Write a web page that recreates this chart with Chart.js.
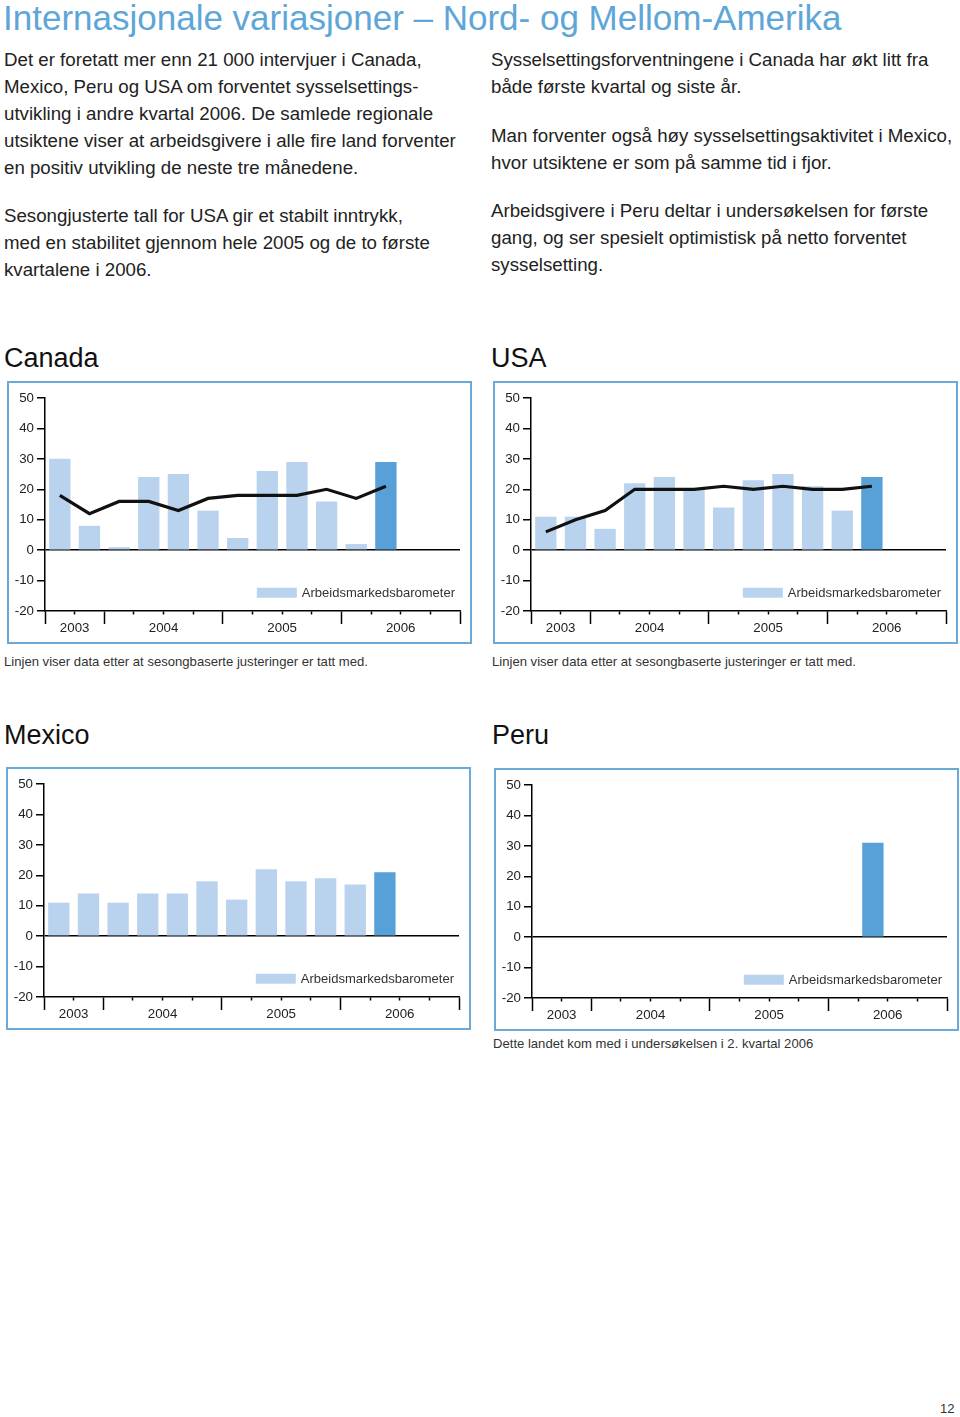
<!DOCTYPE html>
<html lang="no">
<head>
<meta charset="utf-8">
<title>Internasjonale variasjoner – Nord- og Mellom-Amerika</title>
<script src="https://cdn.jsdelivr.net/npm/chart.js@4.4.1/dist/chart.umd.min.js"></script>
<style>
  body { margin: 0; width: 960px; height: 1417px; position: relative; background: #fff;
         font-family: "Liberation Sans", Arial, sans-serif; color: #1e1e1e; overflow: hidden; }
  .abs { position: absolute; white-space: nowrap; margin: 0; font-weight: normal; }
  h1.abs { left: 3px; top: 0; font-size: 35px; line-height: 35px; color: #5ea6d8; }
  .txt { font-size: 18.7px; line-height: 27px; color: #222; }
  .head { font-size: 27px; line-height: 30px; color: #111; }
  .cap { font-size: 13.1px; line-height: 16px; color: #333; }
  .box { position: absolute; border: 2px solid #6aaad9; width: 461px; height: 259px; }
  .box canvas { display: block; }
</style>
</head>
<body>
<h1 class="abs">Internasjonale variasjoner – Nord- og Mellom-Amerika</h1>

<div class="abs txt" style="left:4px; top:46px;">Det er foretatt mer enn 21 000 intervjuer i Canada,<br>Mexico, Peru og USA om forventet sysselsettings-<br>utvikling i andre kvartal 2006. De samlede regionale<br>utsiktene viser at arbeidsgivere i alle fire land forventer<br>en positiv utvikling de neste tre månedene.</div>
<div class="abs txt" style="left:4px; top:202px;">Sesongjusterte tall for USA gir et stabilt inntrykk,<br>med en stabilitet gjennom hele 2005 og de to første<br>kvartalene i 2006.</div>

<div class="abs txt" style="left:491px; top:46px;">Sysselsettingsforventningene i Canada har økt litt fra<br>både første kvartal og siste år.</div>
<div class="abs txt" style="left:491px; top:122px;">Man forventer også høy sysselsettingsaktivitet i Mexico,<br>hvor utsiktene er som på samme tid i fjor.</div>
<div class="abs txt" style="left:491px; top:197px;">Arbeidsgivere i Peru deltar i undersøkelsen for første<br>gang, og ser spesielt optimistisk på netto forventet<br>sysselsetting.</div>

<div class="abs head" style="left:4px; top:343px;">Canada</div>
<div class="abs head" style="left:491px; top:343px;">USA</div>
<div class="box" style="left:7px; top:381px;"><canvas id="canada" width="461" height="259"></canvas></div>
<div class="box" style="left:493px; top:381px;"><canvas id="usa" width="461" height="259"></canvas></div>
<div class="abs cap" style="left:4px; top:654px;">Linjen viser data etter at sesongbaserte justeringer er tatt med.</div>
<div class="abs cap" style="left:492px; top:654px;">Linjen viser data etter at sesongbaserte justeringer er tatt med.</div>

<div class="abs head" style="left:4px; top:720px;">Mexico</div>
<div class="abs head" style="left:492px; top:720px;">Peru</div>
<div class="box" style="left:6px; top:767px;"><canvas id="mexico" width="461" height="259"></canvas></div>
<div class="box" style="left:494px; top:768px;"><canvas id="peru" width="461" height="259"></canvas></div>
<div class="abs cap" style="left:493px; top:1036px;">Dette landet kom med i undersøkelsen i 2. kvartal 2006</div>

<div class="abs" style="left:940px; top:1401px; font-size:13px; line-height:15px; color:#333;">12</div>

<script>
// quarters shown on the x axis (3rd quarter 2003 to 4th quarter 2006)
const quarters = [
  '3. kv. 2003', '4. kv. 2003',
  '1. kv. 2004', '2. kv. 2004', '3. kv. 2004', '4. kv. 2004',
  '1. kv. 2005', '2. kv. 2005', '3. kv. 2005', '4. kv. 2005',
  '1. kv. 2006', '2. kv. 2006', '3. kv. 2006', '4. kv. 2006'
];
const years = ['2003', '2004', '2005', '2006'];
const yTicks = [-20, -10, 0, 10, 20, 30, 40, 50];
const latestQuarter = '2. kv. 2006';

const canadaBars = [30, 8, 1, 24, 25, 13, 4, 26, 29, 16, 2, 29, null, null];
const canadaLine = [18, 12, 16, 16, 13, 17, 18, 18, 18, 20, 17, 21, null, null];
const usaBars = [11, 11, 7, 22, 24, 20, 14, 23, 25, 21, 13, 24, null, null];
const usaLine = [6, 10, 13, 20, 20, 20, 21, 20, 21, 20, 20, 21, null, null];
const mexicoBars = [11, 14, 11, 14, 14, 18, 12, 22, 18, 19, 17, 21, null, null];
const peruBars = [null, null, null, null, null, null, null, null, null, null, null, 31, null, null];

const barLabel = 'Arbeidsmarkedsbarometer';
const lightBlue = '#b9d3ee';
const darkBlue = '#57a0d8';
const fontFamily = '"Liberation Sans", Arial, sans-serif';

Chart.defaults.font.family = fontFamily;

const latest = quarters.indexOf(latestQuarter);
const yearOf = i => quarters[i].slice(-4);

// boundaries between quarters: 0 .. quarters.length
const bounds = quarters.map((q, i) => i).concat(quarters.length);
const majorBounds = bounds.filter(i => i === 0 || i === quarters.length || yearOf(i) !== yearOf(i - 1));

// year label sits in the middle of the quarters of that year
const yearMid = {};
years.forEach(y => {
  const first = quarters.findIndex(q => q.endsWith(y));
  let last = first;
  quarters.forEach((q, i) => { if (q.endsWith(y)) last = i; });
  yearMid[(first + last + 1) / 2] = y;
});

// legend drawn inside the plot, lower right
const innerLegend = {
  id: 'innerLegend',
  afterDraw(chart) {
    const { ctx, chartArea, scales } = chart;
    ctx.save();
    ctx.font = '13px ' + fontFamily;
    const tw = ctx.measureText(barLabel).width;
    const y = scales.y.getPixelForValue(-14);
    const tx = chartArea.right - 5 - tw;
    ctx.fillStyle = lightBlue;
    ctx.fillRect(tx - 45, y - 5, 40, 10);
    ctx.fillStyle = '#333';
    ctx.textBaseline = 'middle';
    ctx.fillText(barLabel, tx, y + 1);
    ctx.restore();
  }
};

function makeChart(id, bars, line) {
  const datasets = [];
  if (line) {
    datasets.push({
      type: 'line',
      label: 'Sesongjustert',
      data: line.map((v, i) => ({ x: i + 0.5, y: v })),
      borderColor: '#111',
      borderWidth: 3.2,
      pointRadius: 0,
      tension: 0,
      order: 0
    });
  }
  datasets.push({
    type: 'bar',
    label: barLabel,
    data: bars.map((v, i) => ({ x: i + 0.5, y: v })),
    backgroundColor: bars.map((v, i) => i === latest ? darkBlue : lightBlue),
    categoryPercentage: 1,
    barPercentage: 0.72,
    order: 1
  });

  return new Chart(document.getElementById(id), {
    type: 'bar',
    data: { datasets: datasets },
    plugins: [innerLegend],
    options: {
      responsive: false,
      animation: false,
      layout: { padding: { top: 15, right: 10, left: 0, bottom: 0 } },
      plugins: { legend: { display: false }, tooltip: { enabled: false } },
      scales: {
        x: {
          type: 'linear',
          min: 0,
          max: quarters.length,
          offset: false,
          afterBuildTicks: s => { s.ticks = bounds.map(v => ({ value: v })); },
          afterFit: s => { s.height = 31; },
          border: { color: '#000', width: 1.5 },
          grid: {
            offset: false,
            drawOnChartArea: false,
            tickLength: 13,
            tickWidth: 1.5,
            tickColor: '#000',
            tickBorderDash: c => (c.tick && !majorBounds.includes(c.tick.value)) ? [3, 30] : []
          },
          ticks: {
            autoSkip: false,
            maxRotation: 0,
            padding: -4,
            color: '#222',
            font: { size: 13.3 },
            callback: v => yearMid[v] || ''
          }
        },
        y: {
          min: -20,
          max: 50,
          afterBuildTicks: s => { s.ticks = yTicks.map(v => ({ value: v })); },
          afterFit: s => { s.width = 36; },
          border: { color: '#000', width: 1.5 },
          grid: {
            color: c => (c.tick && c.tick.value === 0) ? '#000' : 'rgba(0,0,0,0)',
            lineWidth: 1.5,
            tickColor: '#000',
            tickLength: 8,
            tickWidth: 1.5
          },
          ticks: { padding: 3, color: '#222', font: { size: 13.3 } }
        }
      }
    }
  });
}

makeChart('canada', canadaBars, canadaLine);
makeChart('usa', usaBars, usaLine);
makeChart('mexico', mexicoBars, null);
makeChart('peru', peruBars, null);
</script>
</body>
</html>
